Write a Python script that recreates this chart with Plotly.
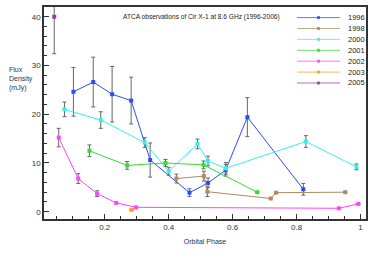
import plotly.graph_objects as go

x1996 = [0.102, 0.164, 0.223, 0.2825, 0.342, 0.465, 0.523, 0.578, 0.646, 0.821]
y1996 = [24.6, 26.6, 24.1, 22.8, 10.6, 3.9, 5.9, 8.5, 19.4, 4.6]
e1996 = [5.0, 5.1, 5.7, 4.8, 3.5, 0.8, 1.0, 1.2, 4.0, 1.2]

x1998 = [0.424, 0.51, 0.521, 0.719, 0.736, 0.952]
y1998 = [6.8, 7.3, 4.1, 2.7, 3.9, 4.0]
e1998 = [0.9, 1.0, 1.0, 0, 0, 0]

x2000 = [0.074, 0.1875, 0.325, 0.40, 0.49, 0.523, 0.579, 0.829, 0.987]
y2000 = [21.0, 18.8, 14.2, 8.3, 13.9, 10.4, 8.9, 14.4, 9.2]
e2000 = [1.5, 1.7, 1.0, 0.8, 1.0, 1.0, 1.2, 1.2, 0.6]

x2001 = [0.152, 0.27, 0.39, 0.509, 0.677]
y2001 = [12.5, 9.5, 10.0, 9.6, 4.0]
e2001 = [1.2, 0.8, 0.7, 0.8, 0]

x2002 = [0.056, 0.117, 0.176, 0.236, 0.298, 0.932, 0.993]
y2002 = [15.2, 6.8, 3.7, 1.8, 0.9, 0.7, 1.6]
e2002 = [1.9, 1.0, 0.6, 0, 0, 0, 0]

x2003 = [0.284]
y2003 = [0.4]
e2003 = [0]

x2005 = [0.042]
y2005 = [40.0]
e2005 = [7.6]

series = [
    ("1996", x1996, y1996, e1996, "#2a4bff"),
    ("1998", x1998, y1998, e1998, "#b08a60"),
    ("2000", x2000, y2000, e2000, "#33f0f0"),
    ("2001", x2001, y2001, e2001, "#33dd33"),
    ("2002", x2002, y2002, e2002, "#ff44ff"),
    ("2003", x2003, y2003, e2003, "#ff9922"),
    ("2005", x2005, y2005, e2005, "#a03aa0"),
]

W, H = 374, 264
ML, MR, MT, MB = 44, 8, 5, 45
PW, PH = W - ML - MR, H - MT - MB

fig = go.Figure()
for name, xs, ys, es, col in series:
    fig.add_trace(go.Scatter(
        x=xs, y=ys, name=name, mode="lines+markers", showlegend=False,
        line=dict(color=col, width=1),
        marker=dict(symbol="square", size=4, color=col),
        error_y=dict(type="data", array=es, visible=True, color="#666666",
                     thickness=1, width=2),
    ))

# custom legend (paper coordinates)
def px2paper(xp, yp):
    return (xp - ML) / PW, 1 - (yp - MT) / PH

for i, (name, xs, ys, es, col) in enumerate(series):
    yp = 15.7 + 11 * i
    x0, yy = px2paper(297, yp)
    x1, _ = px2paper(340, yp)
    xm, _ = px2paper(318.5, yp)
    xt, _ = px2paper(346, yp)
    fig.add_shape(type="line", xref="paper", yref="paper", x0=x0, x1=x1, y0=yy, y1=yy,
                  line=dict(color=col, width=1), opacity=0.75)
    fig.add_shape(type="rect", xref="paper", yref="paper",
                  x0=xm - 1.5 / PW, x1=xm + 1.5 / PW, y0=yy - 1.5 / PH, y1=yy + 1.5 / PH,
                  line=dict(width=0), fillcolor=col, opacity=0.85)
    fig.add_annotation(text=name, xref="paper", yref="paper", x=xt, y=yy,
                       xanchor="left", yanchor="middle", showarrow=False,
                       font=dict(size=7.5, color="#222222"))

fig.update_layout(
    width=W, height=H,
    margin=dict(l=ML, r=MR, t=MT, b=MB),
    paper_bgcolor="white", plot_bgcolor="white",
    font=dict(family="Liberation Sans, Arial, sans-serif", size=8, color="#333333"),
    showlegend=False,
)
fig.update_xaxes(
    range=[0.01, 1.017], showgrid=False, zeroline=False,
    showline=True, linecolor="#333333", linewidth=1.5, mirror=True,
    tickmode="array", tickvals=[0.2, 0.4, 0.6, 0.8, 1], ticktext=["0.2", "0.4", "0.6", "0.8", "1"],
    ticks="inside", ticklen=5, tickcolor="#333333", tickwidth=1,
    minor=dict(dtick=0.05, tick0=0, ticks="inside", ticklen=3, tickcolor="#333333"),
    title=dict(text="Orbital Phase", font=dict(size=7), standoff=8),
    tickfont=dict(size=8),
)
fig.update_yaxes(
    range=[-1.5, 42], showgrid=False, zeroline=False,
    showline=True, linecolor="#333333", linewidth=1.5, mirror=True,
    tickvals=[0, 10, 20, 30, 40],
    ticks="inside", ticklen=5, tickcolor="#333333", tickwidth=1,
    minor=dict(dtick=2, tick0=0, ticks="inside", ticklen=3, tickcolor="#333333"),
    tickfont=dict(size=8),
)
fig.add_annotation(text="Flux<br>Density<br>(mJy)", xref="paper", yref="paper",
                   x=-0.115, y=0.66, xanchor="left", yanchor="middle", align="left",
                   showarrow=False, font=dict(size=7, color="#333333"))
fig.add_annotation(text="ATCA observations of Cir X-1 at 8.6 GHz (1996-2006)",
                   xref="paper", yref="paper", x=0.238, y=0.955, xanchor="left",
                   yanchor="middle", showarrow=False, font=dict(size=6.6, color="#222222"))

fig.write_html("out.html", config={"displayModeBar": False},
               post_script="document.body.style.margin='0';")
